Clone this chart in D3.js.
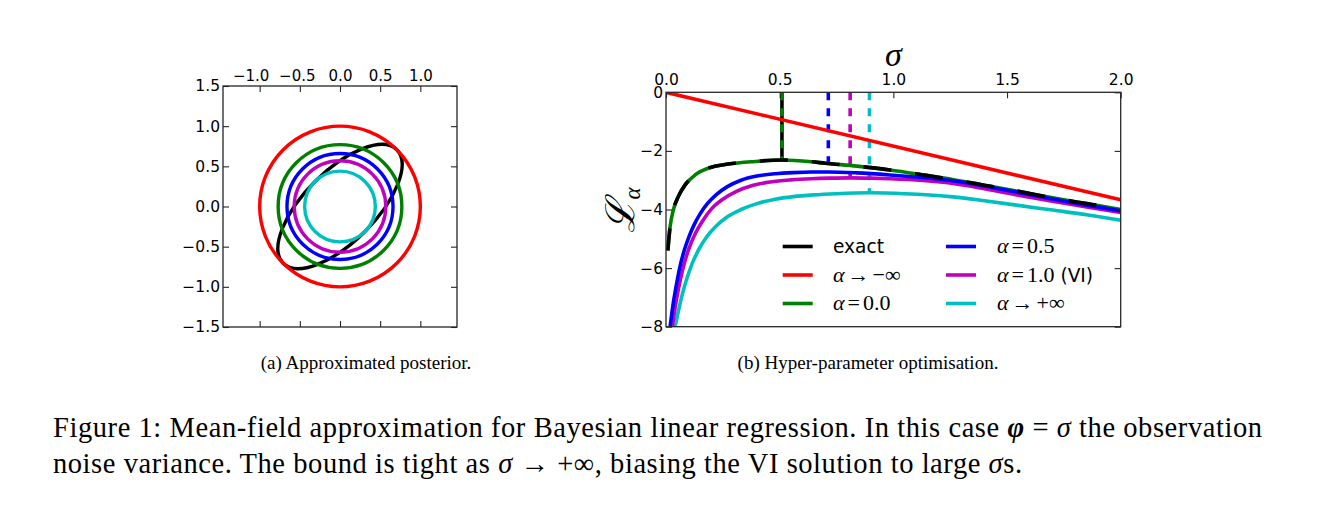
<!DOCTYPE html>
<html><head><meta charset="utf-8">
<script src="https://cdn.jsdelivr.net/npm/d3@7"></script>
<style>
html,body{margin:0;padding:0;background:#fff;}
svg{display:block;}
</style></head>
<body>
<svg id="chart" width="1344" height="516"></svg>
<script>
// ---------- DATA ----------
// Left panel: posterior contours (radius of each mean-field circle)
const circleLabels = ["α→−∞", "α=0.0", "α=0.5", "α=1.0 (VI)", "α→+∞"];
const circleRadii  = [1.00, 0.77, 0.66, 0.57, 0.44];
const exactEllipse = [1.00, 0.44, 45];        // semi-major, semi-minor, angle (deg)
const leftXTicks = [-1.0, -0.5, 0.0, 0.5, 1.0];
const leftYTicks = [-1.5, -1.0, -0.5, 0.0, 0.5, 1.0, 1.5];

// Right panel: L_alpha vs sigma
const exactSigma = [0.008,0.018,0.032,0.054,0.084,0.128,0.186,0.274,0.392,0.509,0.64,0.70,0.839,0.985,1.132,1.27,1.40,1.55,1.70,1.85,2.00];
const exactVals  = [-5.40,-4.59,-4.02,-3.56,-3.16,-2.82,-2.59,-2.45,-2.36,-2.31,-2.37,-2.42,-2.52,-2.65,-2.82,-2.99,-3.17,-3.38,-3.60,-3.80,-4.00];
const redSigma   = [0.0, 2.0];
const redVals    = [0.0, -3.67];
const blueSigma  = [0.018,0.03,0.045,0.06,0.08,0.10,0.125,0.15,0.18,0.22,0.27,0.33,0.40,0.48,0.56,0.64,0.714,0.839,0.985,1.13,1.27,1.40,1.55,1.70,1.85,2.00];
const blueVals   = [-8.0,-7.30,-6.60,-6.00,-5.40,-4.95,-4.50,-4.15,-3.82,-3.50,-3.22,-3.00,-2.86,-2.78,-2.74,-2.72,-2.72,-2.75,-2.82,-2.91,-3.03,-3.20,-3.42,-3.64,-3.85,-4.04];
const magSigma   = [0.028,0.04,0.055,0.075,0.10,0.13,0.16,0.20,0.25,0.31,0.38,0.46,0.55,0.64,0.72,0.81,0.90,0.985,1.13,1.27,1.40,1.55,1.70,1.85,2.00];
const magVals    = [-8.0,-7.35,-6.70,-6.00,-5.35,-4.80,-4.40,-3.98,-3.65,-3.38,-3.18,-3.06,-2.99,-2.95,-2.93,-2.92,-2.93,-2.95,-3.01,-3.12,-3.29,-3.51,-3.72,-3.91,-4.10];
const cyanSigma  = [0.04,0.055,0.07,0.09,0.115,0.145,0.18,0.22,0.27,0.33,0.40,0.48,0.56,0.65,0.75,0.895,1.05,1.25,1.40,1.55,1.70,1.85,2.00];
const cyanVals   = [-8.0,-7.45,-6.95,-6.40,-5.85,-5.35,-4.92,-4.57,-4.25,-4.00,-3.80,-3.65,-3.56,-3.50,-3.46,-3.43,-3.46,-3.56,-3.70,-3.86,-4.02,-4.18,-4.37];
// optimum sigma per bound (exact/α=0, α=0.5, α=1.0, α→+∞) and the value reached there
const optSigma = [0.51, 0.714, 0.81, 0.895];
const optVals  = [-2.31, -2.72, -2.92, -3.43];
const rightXTicks = [0.0, 0.5, 1.0, 1.5, 2.0];
const rightYTicks = [0, -2, -4, -6, -8];
const legendLabels = ["exact", "α→−∞", "α=0.0", "α=0.5", "α=1.0 (VI)", "α→+∞"];

// ---------- STYLE ----------
const C = {black:"#000000", red:"#ff0000", green:"#008000", blue:"#0000ff", mag:"#bf00bf", cyan:"#00bfbf"};
const circleColors = [C.red, C.green, C.blue, C.mag, C.cyan];
const legendColors = [C.black, C.red, C.green, C.blue, C.mag, C.cyan];
const SANS = "'DejaVu Sans', sans-serif";
const SERIF = "'Liberation Serif', 'DejaVu Serif', serif";
const SPINE = "#262626";

const svg = d3.select("#chart");

// ---------- LEFT PANEL ----------
const L = {x0:223, x1:457, y0:86, y1:327};
const lx = d3.scaleLinear().domain([-1.4565, 1.4565]).range([L.x0, L.x1]);
const ly = d3.scaleLinear().domain([-1.5, 1.5]).range([L.y1, L.y0]);
const lpx = lx(1) - lx(0), lpy = ly(0) - ly(1);

const gl = svg.append("g");
gl.append("clipPath").attr("id","clipL").append("rect")
  .attr("x",L.x0).attr("y",L.y0).attr("width",L.x1-L.x0).attr("height",L.y1-L.y0);
const glp = gl.append("g").attr("clip-path","url(#clipL)");

glp.append("ellipse")
  .attr("cx",0).attr("cy",0)
  .attr("rx", exactEllipse[0]*lpx).attr("ry", exactEllipse[1]*lpy)
  .attr("transform", `translate(${lx(0)},${ly(0)}) rotate(${-exactEllipse[2]})`)
  .attr("fill","none").attr("stroke",C.black).attr("stroke-width",3.4);

glp.selectAll("circle.mf").data(circleRadii).join("circle")
  .attr("class","mf")
  .attr("cx", lx(0)).attr("cy", ly(0))
  .attr("r", d => d*lpx)
  .attr("fill","none")
  .attr("stroke",(d,i)=>circleColors[i])
  .attr("stroke-width",3.4);

function styleAxis(g){
  g.select(".domain").remove();
  g.selectAll(".tick line").attr("stroke",SPINE).attr("stroke-width",1.1);
  g.selectAll(".tick text").attr("fill","#000").attr("font-family",SANS).attr("font-size","15.5px");
}
const f1 = d3.format(".1f");
gl.append("g").attr("transform",`translate(0,${L.y0})`)
  .call(d3.axisTop(lx).tickValues(leftXTicks).tickFormat(f1).tickSize(-6).tickPadding(5)).call(styleAxis)
  .call(g=>g.selectAll(".tick text").attr("font-size","15px").attr("dx",d=>d<0?(d<-0.75?-9:-3):0));
gl.append("g").attr("transform",`translate(0,${L.y1})`)
  .call(d3.axisBottom(lx).tickValues(leftXTicks).tickFormat("").tickSize(-6)).call(styleAxis);
gl.append("g").attr("transform",`translate(${L.x0},0)`)
  .call(d3.axisLeft(ly).tickValues(leftYTicks).tickFormat(f1).tickSize(-6).tickPadding(3)).call(styleAxis);
gl.append("g").attr("transform",`translate(${L.x1},0)`)
  .call(d3.axisRight(ly).tickValues(leftYTicks).tickFormat("").tickSize(-6)).call(styleAxis);
gl.append("rect").attr("x",L.x0).attr("y",L.y0).attr("width",L.x1-L.x0).attr("height",L.y1-L.y0)
  .attr("fill","none").attr("stroke",SPINE).attr("stroke-width",1.3);

// ---------- RIGHT PANEL ----------
const R = {x0:666, x1:1120.7, y0:92.3, y1:326.7};
const rx = d3.scaleLinear().domain([0, 2]).range([R.x0, R.x1]);
const ry = d3.scaleLinear().domain([-8, 0]).range([R.y1, R.y0]);
const gr = svg.append("g");
gr.append("clipPath").attr("id","clipR").append("rect")
  .attr("x",R.x0).attr("y",R.y0).attr("width",R.x1-R.x0).attr("height",R.y1-R.y0);
const grp = gr.append("g").attr("clip-path","url(#clipR)");

const line = d3.line().x(d=>rx(d[0])).y(d=>ry(d[1])).curve(d3.curveMonotoneX);
const seg = d3.line().x(d=>rx(d[0])).y(d=>ry(d[1]));
const zip = (a,b) => a.map((v,i)=>[v,b[i]]);
const LW = 3.6;

// optimum verticals (behind curves)
const optColors = [C.green, C.blue, C.mag, C.cyan];
optSigma.forEach((s,i)=>{
  const pts = [[s,0],[s,optVals[i]]];
  if(i===0){
    grp.append("path").attr("d",seg(pts))
      .attr("stroke",C.black).attr("stroke-width",LW).attr("fill","none");
  }
  grp.append("path").attr("d",seg(pts))
    .attr("stroke",optColors[i]).attr("stroke-width",LW).attr("fill","none").attr("stroke-dasharray","8,8");
});

const series = [
  {s:exactSigma, v:exactVals, c:C.green},
  {s:cyanSigma, v:cyanVals, c:C.cyan},
  {s:magSigma, v:magVals, c:C.mag},
  {s:blueSigma, v:blueVals, c:C.blue},
  {s:redSigma, v:redVals, c:C.red}
];
series.forEach(o=>{
  grp.append("path").attr("d", line(zip(o.s,o.v)))
    .attr("fill","none").attr("stroke",o.c).attr("stroke-width",LW).attr("stroke-linejoin","round");
});
// exact posterior, dashed black over the α=0 green curve
grp.append("path").attr("d", line(zip(exactSigma, exactVals)))
  .attr("fill","none").attr("stroke",C.black).attr("stroke-width",LW)
  .attr("stroke-dasharray","28,24").attr("stroke-dashoffset",6);

const f0 = d3.format("d");
gr.append("g").attr("transform",`translate(0,${R.y0})`)
  .call(d3.axisTop(rx).tickValues(rightXTicks).tickFormat(f1).tickSize(-6).tickPadding(7)).call(styleAxis);
gr.append("g").attr("transform",`translate(${R.x0},0)`)
  .call(d3.axisLeft(ry).tickValues(rightYTicks).tickFormat(f0).tickSize(-6).tickPadding(3)).call(styleAxis);
gr.append("g").attr("transform",`translate(${R.x1},0)`)
  .call(d3.axisRight(ry).tickValues(rightYTicks).tickFormat("").tickSize(-6)).call(styleAxis);
gr.append("rect").attr("x",R.x0).attr("y",R.y0).attr("width",R.x1-R.x0).attr("height",R.y1-R.y0)
  .attr("fill","none").attr("stroke",SPINE).attr("stroke-width",1.3);

// axis labels
gr.append("text").attr("x", rx(1.0)).attr("y", 66).attr("text-anchor","middle")
  .attr("font-family",SERIF).attr("font-style","italic").attr("font-size","34px").text("σ");
const yl = gr.append("text").attr("transform",`translate(634,210) rotate(-90)`).attr("text-anchor","middle")
  .attr("font-family","'DejaVu Serif', serif").attr("font-style","italic").attr("font-size","40px");
yl.append("tspan").text("ℒ");
yl.append("tspan").attr("font-size","23px").attr("dy",6).attr("font-family",SERIF).text("α");

// legend
const legCols = [{lx:782.7, tx:833}, {lx:946, tx:997}];
const legRows = [246.5, 275, 303.5];
const gLeg = gr.append("g");
legendLabels.forEach((lab,i)=>{
  const col = legCols[Math.floor(i/3)], yy = legRows[i%3];
  gLeg.append("line").attr("x1",col.lx).attr("x2",col.lx+30).attr("y1",yy).attr("y2",yy)
    .attr("stroke",legendColors[i]).attr("stroke-width",LW);
  const t = gLeg.append("text").attr("x",col.tx).attr("y",yy+6.5);
  if(lab==="exact"){
    t.attr("font-family",SANS).attr("font-size","18.6px").text(lab);
  } else {
    t.attr("font-family",SERIF).attr("font-size","22px");
    t.append("tspan").attr("font-style","italic").text("α");
    let rest = lab.slice(1), extra = "";
    if(rest.includes(" (VI)")){ extra=" (VI)"; rest = rest.replace(" (VI)",""); }
    const op = rest[0], num = rest.slice(1);
    t.append("tspan").attr("dx",3).text(op);
    t.append("tspan").attr("dx",3).text(num);
    if(extra) t.append("tspan").attr("font-family",SANS).attr("font-size","18.6px").text(extra);
  }
});

// ---------- CAPTIONS ----------
svg.append("text").attr("x",366).attr("y",369).attr("text-anchor","middle")
  .attr("font-family",SERIF).attr("font-size","19px").text("(a) Approximated posterior.");
svg.append("text").attr("x",868).attr("y",369).attr("text-anchor","middle")
  .attr("font-family",SERIF).attr("font-size","19px").text("(b) Hyper-parameter optimisation.");

const cap1 = svg.append("text").attr("x",53).attr("y",437).attr("font-family",SERIF).attr("font-size","28.5px")
  .attr("textLength",1209).attr("lengthAdjust","spacing");
cap1.append("tspan").text("Figure 1:  Mean-field approximation for Bayesian linear regression.  In this case ");
cap1.append("tspan").attr("font-style","italic").attr("font-weight","bold").text("φ");
cap1.append("tspan").text(" = ");
cap1.append("tspan").attr("font-style","italic").text("σ");
cap1.append("tspan").text(" the observation");
const cap2 = svg.append("text").attr("x",53).attr("y",473).attr("font-family",SERIF).attr("font-size","28.5px")
  .attr("textLength",969).attr("lengthAdjust","spacing");
cap2.append("tspan").text("noise variance.  The bound is tight as ");
cap2.append("tspan").attr("font-style","italic").text("σ");
cap2.append("tspan").text(" → +∞, biasing the VI solution to large ");
cap2.append("tspan").attr("font-style","italic").text("σ");
cap2.append("tspan").text("s.");
</script>
</body></html>
